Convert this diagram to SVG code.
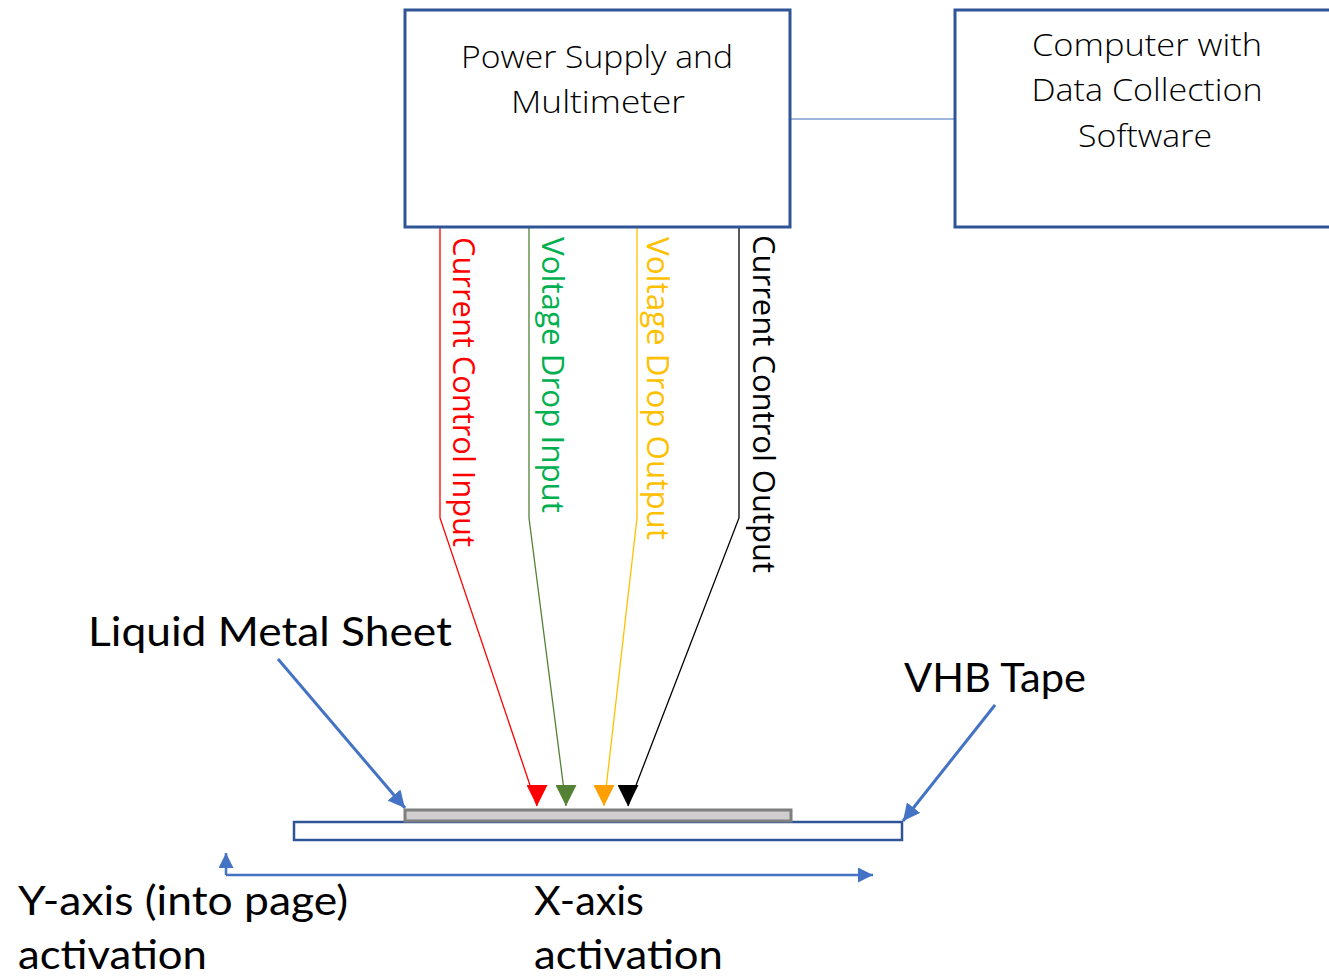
<svg xmlns="http://www.w3.org/2000/svg" width="1329" height="977" viewBox="0 0 1329 977">
  <style>
    .box { fill: #ffffff; stroke: #2F5597; stroke-width: 3; }
    .boxtext { font-family: "Open Sans", "Noto Sans", sans-serif; font-weight: 300; font-size: 32px; fill: #000000; text-anchor: middle; }
    .vtext { font-family: "Open Sans", "Noto Sans", sans-serif; font-weight: 400; font-size: 31px; }
    .label { font-family: Lato, "Liberation Sans", sans-serif; font-size: 41px; fill: #000000; }
    .wire { fill: none; stroke-width: 1.3; }
    .bluearrow { fill: none; stroke: #4472C4; stroke-width: 3; }
    .axis { fill: none; stroke: #4472C4; stroke-width: 2.5; }
  </style>
  <defs>
    <marker id="headRed" markerUnits="userSpaceOnUse" markerWidth="21" markerHeight="21" viewBox="0 0 20 20" refX="20" refY="10" orient="90">
      <path d="M0,0 L20,10 L0,20 z" fill="#FF0000"/>
    </marker>
    <marker id="headGreen" markerUnits="userSpaceOnUse" markerWidth="21" markerHeight="21" viewBox="0 0 20 20" refX="20" refY="10" orient="90">
      <path d="M0,0 L20,10 L0,20 z" fill="#548235"/>
    </marker>
    <marker id="headOrange" markerUnits="userSpaceOnUse" markerWidth="21" markerHeight="21" viewBox="0 0 20 20" refX="20" refY="10" orient="90">
      <path d="M0,0 L20,10 L0,20 z" fill="#FFA000"/>
    </marker>
    <marker id="headBlack" markerUnits="userSpaceOnUse" markerWidth="21" markerHeight="21" viewBox="0 0 20 20" refX="20" refY="10" orient="90">
      <path d="M0,0 L20,10 L0,20 z" fill="#000000"/>
    </marker>
    <marker id="headBlue" markerUnits="userSpaceOnUse" markerWidth="17" markerHeight="17" viewBox="0 0 16 16" refX="16" refY="8" orient="auto">
      <path d="M0,0 L16,8 L0,16 z" fill="#4472C4"/>
    </marker>
    <marker id="headAxis" markerUnits="userSpaceOnUse" markerWidth="15" markerHeight="15" viewBox="0 0 14 14" refX="14" refY="7" orient="auto">
      <path d="M0,0 L14,7 L0,14 z" fill="#4472C4"/>
    </marker>
  </defs>

  <g id="connectors">
    <line x1="790" y1="119" x2="955" y2="119" stroke="#7F9FD5" stroke-width="1.5"/>
    <path class="wire" stroke="#FF0000" d="M440,227 L440,518 L537,806" marker-end="url(#headRed)"/>
    <path class="wire" stroke="#548235" d="M529,227 L529,518 L566,806" marker-end="url(#headGreen)"/>
    <path class="wire" stroke="#FFC000" d="M637,227 L637,518 L604,806" marker-end="url(#headOrange)"/>
    <path class="wire" stroke="#000000" d="M739,227 L739,518 L628,806" marker-end="url(#headBlack)"/>
    <line class="bluearrow" x1="278" y1="659" x2="405" y2="808" marker-end="url(#headBlue)"/>
    <line class="bluearrow" x1="995" y1="705" x2="903" y2="821" marker-end="url(#headBlue)"/>
    <path class="axis" d="M226,875 L226,853" marker-end="url(#headAxis)"/>
    <path class="axis" d="M226,875 L873,875" marker-end="url(#headAxis)"/>
  </g>

  <g id="power-supply">
    <rect class="box" x="405" y="10" width="385" height="217"/>
    <text class="boxtext" x="597" y="68" textLength="272" lengthAdjust="spacingAndGlyphs">Power Supply and</text>
    <text class="boxtext" x="598" y="113" textLength="174" lengthAdjust="spacingAndGlyphs">Multimeter</text>
  </g>

  <g id="computer">
    <rect class="box" x="955" y="10" width="400" height="217"/>
    <text class="boxtext" x="1147" y="56" textLength="230" lengthAdjust="spacingAndGlyphs">Computer with</text>
    <text class="boxtext" x="1147" y="101" textLength="231" lengthAdjust="spacingAndGlyphs">Data Collection</text>
    <text class="boxtext" x="1145" y="147" textLength="134" lengthAdjust="spacingAndGlyphs">Software</text>
  </g>

  <g id="wire-labels">
    <text class="vtext" fill="#FF0000" transform="translate(453,237) rotate(90)" textLength="310" lengthAdjust="spacingAndGlyphs">Current Control Input</text>
    <text class="vtext" fill="#00B050" transform="translate(542,237) rotate(90)" textLength="276" lengthAdjust="spacingAndGlyphs">Voltage Drop Input</text>
    <text class="vtext" fill="#FFC000" transform="translate(647,237) rotate(90)" textLength="303" lengthAdjust="spacingAndGlyphs">Voltage Drop Output</text>
    <text class="vtext" fill="#000000" transform="translate(753,235) rotate(90)" textLength="338" lengthAdjust="spacingAndGlyphs">Current Control Output</text>
  </g>

  <g id="vhb-tape">
    <rect x="294" y="822" width="608" height="18" fill="#ffffff" stroke="#2F5597" stroke-width="2.5"/>
  </g>

  <g id="liquid-metal-sheet">
    <rect x="405" y="810" width="386" height="11" fill="#D0CECE" stroke="#7F7F7F" stroke-width="3"/>
  </g>

  <g id="labels">
    <text class="label" x="88" y="646" textLength="364" lengthAdjust="spacingAndGlyphs">Liquid Metal Sheet</text>
    <text class="label" x="904" y="692" textLength="182" lengthAdjust="spacingAndGlyphs">VHB Tape</text>
    <text class="label" x="18" y="915" textLength="330" lengthAdjust="spacingAndGlyphs">Y-axis (into page)</text>
    <text class="label" x="18" y="969" textLength="189" lengthAdjust="spacingAndGlyphs">activation</text>
    <text class="label" x="534" y="915" textLength="110" lengthAdjust="spacingAndGlyphs">X-axis</text>
    <text class="label" x="534" y="969" textLength="189" lengthAdjust="spacingAndGlyphs">activation</text>
  </g>
</svg>
